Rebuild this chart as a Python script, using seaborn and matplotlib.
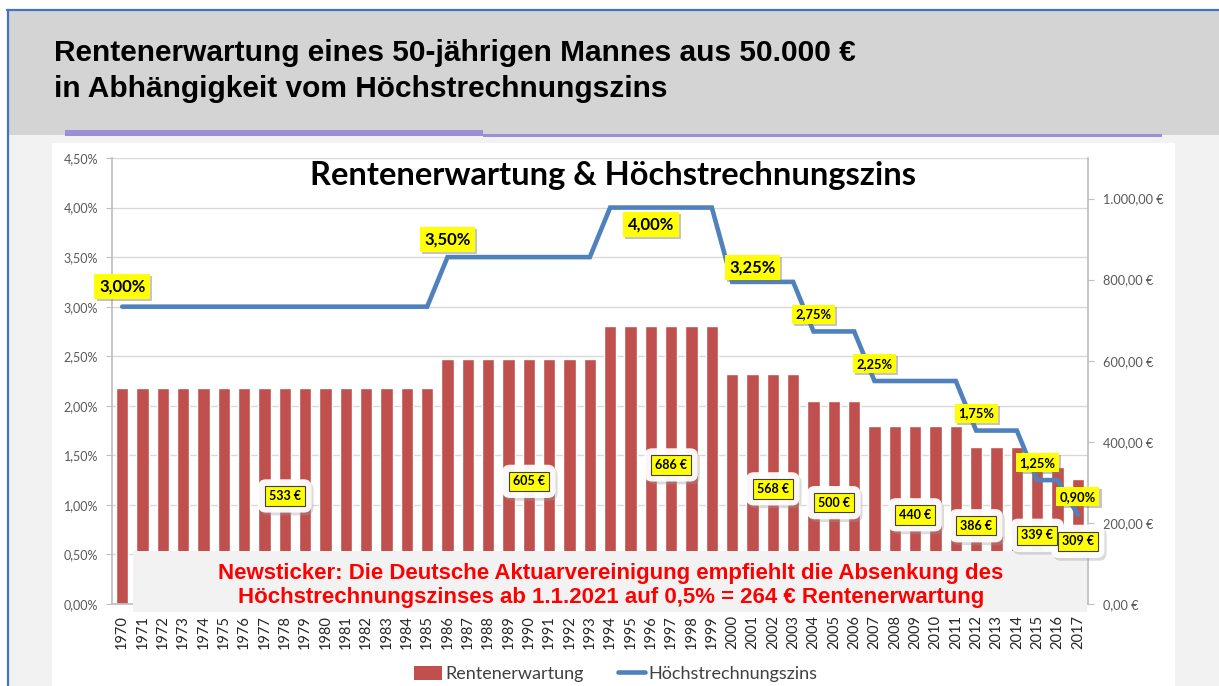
import numpy as np
import pandas as pd
import matplotlib
matplotlib.use("Agg")
import matplotlib.pyplot as plt
import seaborn as sns
from matplotlib.patches import Rectangle, Patch
from matplotlib.lines import Line2D
from matplotlib.ticker import FuncFormatter
import matplotlib.patheffects as pe
from matplotlib.transforms import blended_transform_factory

# ---------------- data ----------------
years = [1970, 1971, 1972, 1973, 1974, 1975, 1976, 1977, 1978, 1979,
         1980, 1981, 1982, 1983, 1984, 1985, 1986, 1987, 1988, 1989,
         1990, 1991, 1992, 1993, 1994, 1995, 1996, 1997, 1998, 1999,
         2000, 2001, 2002, 2003, 2004, 2005, 2006, 2007, 2008, 2009,
         2010, 2011, 2012, 2013, 2014, 2015, 2016, 2017]
rente = [533, 533, 533, 533, 533, 533, 533, 533, 533, 533,
         533, 533, 533, 533, 533, 533, 605, 605, 605, 605,
         605, 605, 605, 605, 686, 686, 686, 686, 686, 686,
         568, 568, 568, 568, 500, 500, 500, 440, 440, 440,
         440, 440, 386, 386, 386, 339, 339, 309]
zins = [3.00, 3.00, 3.00, 3.00, 3.00, 3.00, 3.00, 3.00, 3.00, 3.00,
        3.00, 3.00, 3.00, 3.00, 3.00, 3.00, 3.50, 3.50, 3.50, 3.50,
        3.50, 3.50, 3.50, 3.50, 4.00, 4.00, 4.00, 4.00, 4.00, 4.00,
        3.25, 3.25, 3.25, 3.25, 2.75, 2.75, 2.75, 2.25, 2.25, 2.25,
        2.25, 2.25, 1.75, 1.75, 1.75, 1.25, 1.25, 0.90]
zins_label_years = [1970, 1986, 1996, 2001, 2004, 2007, 2012, 2015, 2017]
rente_label_years = [1978, 1990, 1997, 2002, 2005, 2009, 2012, 2015, 2017]
pct_ticks = [0.0, 0.5, 1.0, 1.5, 2.0, 2.5, 3.0, 3.5, 4.0, 4.5]
eur_ticks = [0, 200, 400, 600, 800, 1000]

slide_title = ["Rentenerwartung eines 50-jährigen Mannes aus 50.000 €",
               "in Abhängigkeit vom Höchstrechnungszins"]
chart_title = "Rentenerwartung & Höchstrechnungszins"
news_text = ("Newsticker: Die Deutsche Aktuarvereinigung empfiehlt die Absenkung des\n"
             "Höchstrechnungszinses ab 1.1.2021 auf 0,5% = 264 € Rentenerwartung")
series_names = ["Rentenerwartung", "Höchstrechnungszins"]

# ---------------- styling ----------------
sns.set_theme(style="white")
plt.rcParams['font.family'] = ['Lato', 'DejaVu Sans']

BAR = "#c0504d"
LINE = "#4f81bd"
GRID = "#d9d9d9"
AXC = "#bfbfbf"
TXT = "#595959"
YEL = "#ffff00"

W, H = 1219, 686
fig = plt.figure(figsize=(W / 100, H / 100), dpi=100, facecolor="white")


def fx(px):
    return px / W


def fy(py):
    return 1 - py / H


# slide background
fig.add_artist(Rectangle((fx(8), 0), 1, fy(135), transform=fig.transFigure,
                         facecolor="#f2f2f2", edgecolor="none", zorder=-20))
fig.add_artist(Rectangle((fx(8), fy(135)), 1, fy(10) - fy(135), transform=fig.transFigure,
                         facecolor="#d4d4d4", edgecolor="none", zorder=-19))
fig.add_artist(Rectangle((fx(52), 0), fx(1175) - fx(52), fy(143), transform=fig.transFigure,
                         facecolor="white", edgecolor="none", zorder=-18))
fig.add_artist(Line2D([fx(7), 1], [fy(10), fy(10)], transform=fig.transFigure,
                      color="#4472c4", lw=1.6, zorder=-10))
fig.add_artist(Line2D([fx(7.5), fx(7.5)], [0, fy(10)], transform=fig.transFigure,
                      color="#4472c4", lw=1.6, zorder=-10))
fig.add_artist(Rectangle((fx(65), fy(136)), fx(483) - fx(65), fy(130.5) - fy(136),
                         transform=fig.transFigure, facecolor="#9c8fd7",
                         edgecolor="none", zorder=-9))
fig.add_artist(Rectangle((fx(483), fy(136.5)), fx(1162) - fx(483), fy(134.5) - fy(136.5),
                         transform=fig.transFigure, facecolor="#9c8fd7",
                         edgecolor="none", zorder=-9))

for k, line in enumerate(slide_title):
    fig.text(fx(54), fy(53 + 36 * k), line, fontsize=21.5, fontweight="bold",
             family=["Liberation Sans", "DejaVu Sans"], color="black",
             ha="left", va="center")

fig.text(fx(613), fy(176), chart_title, fontsize=23.5, fontweight="bold",
         color="black", ha="center", va="center")

# ---------------- axes ----------------
axb = fig.add_axes([fx(112), fy(604), fx(1088) - fx(112), fy(158) - fy(604)])
axb.set_facecolor("white")
axl = axb.twinx()
axl.patch.set_visible(False)

df = pd.DataFrame({"year": [str(y) for y in years], "rente": rente, "zins": zins})
sns.barplot(data=df, x="year", y="rente", color=BAR, saturation=1, width=0.62,
            ax=axb, zorder=2)
xpos = np.arange(len(years))
sns.lineplot(x=xpos, y=df["zins"], ax=axl, color=LINE, lw=3.3, zorder=3,
             solid_joinstyle="miter")

axb.set_xlim(-0.5, len(years) - 0.5)
axb.set_ylim(0, 1100)
axl.set_ylim(0, 4.5)
axb.set_xlabel("")
axb.set_ylabel("")
axl.set_xlabel("")
axl.set_ylabel("")

# grid lines of the percent axis drawn behind the bars
trans = blended_transform_factory(axb.transAxes, axl.transData)
for t in pct_ticks:
    axb.add_line(Line2D([0, 1], [t, t], transform=trans, color=GRID, lw=1.0, zorder=0.5))

# y axes
axb.yaxis.tick_right()
axl.yaxis.tick_left()
axl.set_yticks(pct_ticks)
axl.yaxis.set_major_formatter(FuncFormatter(lambda v, p: f"{v:.2f}%".replace(".", ",")))
axb.set_yticks(eur_ticks)


def eur(v, p):
    s = f"{v:,.2f}".replace(",", "X").replace(".", ",").replace("X", ".")
    return s + " €"


axb.yaxis.set_major_formatter(FuncFormatter(eur))
axl.tick_params(axis="y", which="both", left=True, right=False, length=4, width=0.8,
                color=AXC, labelcolor=TXT, labelsize=9, pad=6)
axb.tick_params(axis="y", which="both", right=True, left=False, labelright=True,
                labelleft=False, length=4, width=0.8, color=AXC, labelcolor=TXT,
                labelsize=9.2, pad=7)
axb.tick_params(axis="x", length=0, labelsize=10.5, labelcolor="#262626",
                labelrotation=90, pad=8)

for s in axb.spines.values():
    s.set_visible(False)
for s in axl.spines.values():
    s.set_visible(False)
axb.spines["right"].set_visible(True)
axb.spines["right"].set_color(AXC)
axb.spines["bottom"].set_visible(True)
axb.spines["bottom"].set_color(AXC)
axl.spines["left"].set_visible(True)
axl.spines["left"].set_color(AXC)

# ---------------- newsticker box ----------------
axl.add_patch(Rectangle((0.0215, -0.018), 0.9775, 0.137, transform=axl.transAxes,
                        facecolor="#f2f2f2", edgecolor="none", zorder=5, clip_on=False))
axl.text(0.511, 0.0415, news_text, transform=axl.transAxes, ha="center", va="center",
         fontsize=16, fontweight="bold", color="#ff0000", linespacing=1.2,
         family=["Liberation Sans", "DejaVu Sans"], zorder=6, clip_on=False)

# ---------------- data labels ----------------
shadow = [pe.withSimplePatchShadow(offset=(1.5, -1.5), shadow_rgbFace="#7f7f7f", alpha=0.45)]

# bar labels (centered in bar)
for yr in rente_label_years:
    i = years.index(yr)
    v = rente[i]
    txt = f"{v} €"
    halo = axl.annotate(txt, xy=(i, v / 2), xycoords=axb.transData, ha="center",
                        va="center", fontsize=9, fontweight="bold", color="none",
                        bbox=dict(boxstyle="round,pad=0.85,rounding_size=0.6",
                                  facecolor="white", edgecolor="none", alpha=0.95),
                        zorder=7)
    halo.get_bbox_patch().set_path_effects(
        [pe.withSimplePatchShadow(offset=(1.5, -2), shadow_rgbFace="#9a9a9a", alpha=0.35)])
    axl.annotate(txt, xy=(i, v / 2), xycoords=axb.transData, ha="center", va="center",
                 fontsize=9, fontweight="bold", color="black",
                 bbox=dict(boxstyle="square,pad=0.3", facecolor=YEL,
                           edgecolor="#404040", lw=0.8),
                 zorder=8)

# line labels
zins_label_size = [12, 12, 12, 12, 9.3, 9.3, 9.3, 9.3, 9.3]
zins_label_offset = [14.5, 12.5, -12.5, 10.5, 12.5, 12.5, 12.5, 12.5, 13]
for yr, fs, off in zip(zins_label_years, zins_label_size, zins_label_offset):
    i = years.index(yr)
    v = zins[i]
    txt = f"{v:.2f}%".replace(".", ",")
    t = axl.annotate(txt, xy=(i, v), xytext=(0, off), textcoords="offset points",
                     ha="center", va="center", fontsize=fs, fontweight="bold",
                     color="black",
                     bbox=dict(boxstyle="square,pad=0.27", facecolor=YEL, edgecolor="none"),
                     zorder=8)
    t.get_bbox_patch().set_path_effects(shadow)

# ---------------- legend ----------------
handles = [Patch(facecolor=BAR, edgecolor="none"),
           Line2D([0], [0], color=LINE, lw=3.3)]
fig.legend(handles, series_names, loc="center", bbox_to_anchor=(fx(616), fy(674)),
           ncol=2, frameon=False, fontsize=13, handlelength=1.5, handleheight=0.8,
           handletextpad=0.2, columnspacing=1.9, labelcolor="#404040")

fig.savefig("out.png", dpi=100, facecolor="white")
